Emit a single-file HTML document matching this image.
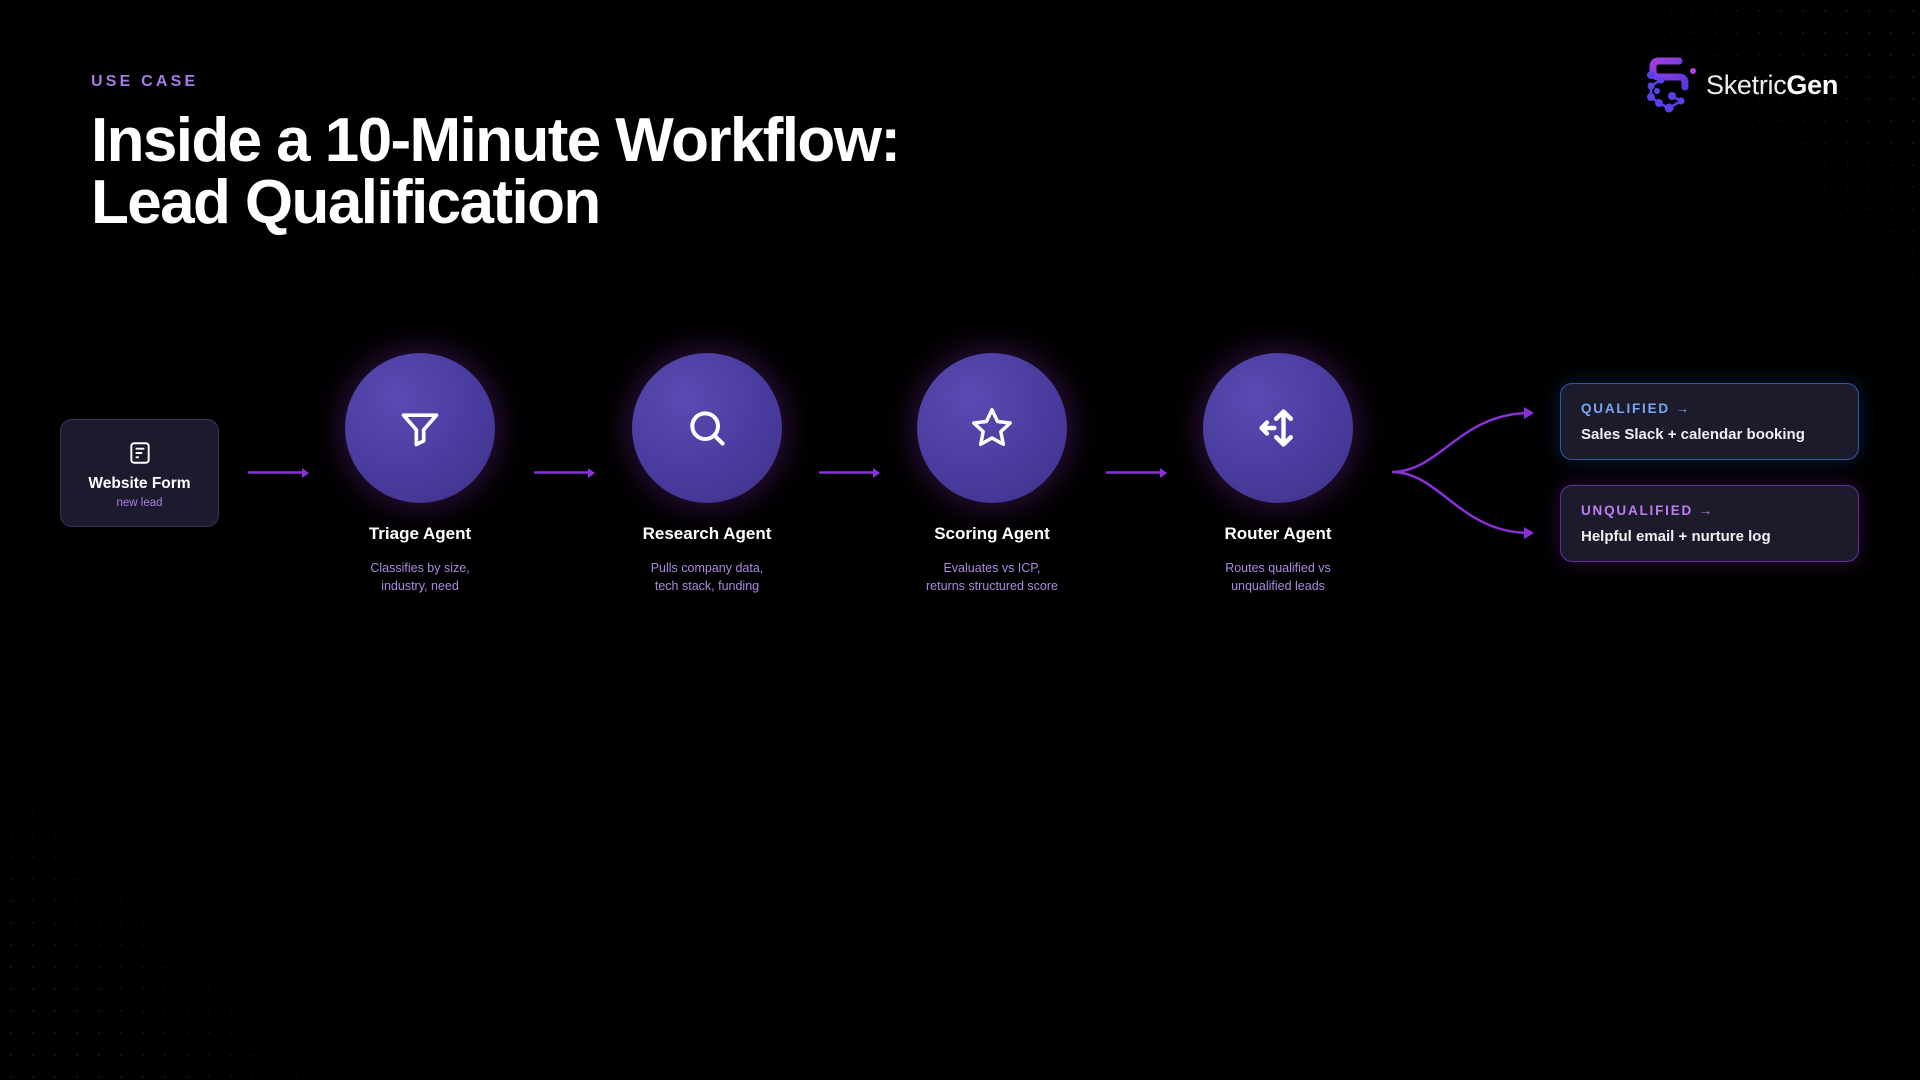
<!DOCTYPE html>
<html><head><meta charset="utf-8"><style>
html,body{margin:0;padding:0;background:#000;}
body{width:1920px;height:1080px;position:relative;overflow:hidden;font-family:"Liberation Sans",sans-serif;color:#fff;}
.dots{position:absolute;background-image:radial-gradient(circle,#1a1a24 1px,transparent 1.5px);background-size:22px 22px;}
.eyebrow{position:absolute;left:91px;top:73px;font-size:16px;letter-spacing:3.2px;color:#a77ae6;font-weight:bold;}
.title{position:absolute;left:91px;top:110px;font-size:62px;line-height:62px;font-weight:bold;letter-spacing:-1.6px;color:#fff;}
.circ{position:absolute;width:150px;height:150px;border-radius:50%;background:radial-gradient(circle at 35% 30%,#5a4ab2 0%,#4a3c9e 55%,#3d3188 100%);box-shadow:0 0 30px 6px rgba(120,40,160,0.35);}
.circ svg{position:absolute;left:50%;top:50%;transform:translate(-50%,-50%);}
.lbl{position:absolute;width:240px;text-align:center;font-weight:bold;font-size:17px;}
.desc{position:absolute;width:240px;text-align:center;font-size:12.5px;line-height:18px;color:#a88ae0;}
.form{position:absolute;left:60px;top:419px;width:157px;height:106px;border-radius:12px;background:#1c1b2e;border:1.5px solid #3a3258;text-align:center;}
.out{position:absolute;left:1560px;width:297px;height:75px;border-radius:12px;background:#1b1b2c;}
.out .h{position:absolute;left:20px;top:17px;font-size:13.5px;font-weight:bold;letter-spacing:1.8px;}
.out .t{position:absolute;left:20px;top:42px;font-size:15px;font-weight:bold;color:#f0f0f0;}
</style></head><body>
<div class="dots" style="right:0;top:0;width:260px;height:300px;opacity:.7;-webkit-mask-image:linear-gradient(225deg,#000 20%,transparent 80%);"></div>
<div class="dots" style="left:0;bottom:0;width:300px;height:300px;opacity:.7;-webkit-mask-image:linear-gradient(45deg,#000 20%,transparent 80%);"></div>

<div class="eyebrow">USE CASE</div>
<div class="title">Inside a 10-Minute Workflow:<br>Lead Qualification</div>

<!-- logo -->
<svg style="position:absolute;left:1645px;top:53px" width="56" height="62" viewBox="0 0 56 62">
<defs><linearGradient id="lg" x1="0" y1="0" x2="1" y2="1"><stop offset="0" stop-color="#a23ee0"/><stop offset="1" stop-color="#5a36e0"/></linearGradient></defs>
<path d="M34 8 L14 8 Q8 8 8 14 L8 18 Q8 24 14 24 L34 24 Q40 24 40 30 L40 34" fill="none" stroke="url(#lg)" stroke-width="7" stroke-linecap="round"/>
<circle cx="48" cy="18" r="3" fill="#b040e0"/>
<g fill="#5a40e8"><circle cx="6" cy="22" r="4"/><circle cx="16" cy="27" r="3.5"/><circle cx="6" cy="33" r="3.5"/><circle cx="12" cy="38" r="3"/><circle cx="6" cy="44" r="4"/><circle cx="14" cy="50" r="4"/><circle cx="24" cy="55" r="4.5"/><circle cx="27" cy="43" r="4"/><circle cx="36" cy="48" r="3.5"/></g>
<path d="M6 22 L16 27 L6 33 L6 44 L14 50 L24 55 L36 48 L27 43" fill="none" stroke="#5a40e8" stroke-width="2.5"/>
</svg>
<div style="position:absolute;left:1706px;top:70px;font-size:27px;color:#eee;letter-spacing:-0.3px;">Sketric<b style="color:#fff">Gen</b></div>

<!-- form -->
<div class="form">
<svg style="position:absolute;left:66px;top:20px" width="26" height="26" viewBox="0 0 24 24" fill="none" stroke="#fff" stroke-width="1.8"><rect x="4" y="3" width="16" height="18" rx="2.5"/><path d="M8 8h8M8 12h6M8 16h3"/></svg>
<div style="position:absolute;left:0;right:0;top:55px;font-size:15.5px;font-weight:bold;">Website Form</div>
<div style="position:absolute;left:0;right:0;top:77px;font-size:11.5px;color:#b27ae8;">new lead</div>
</div>

<!-- circles -->
<div class="circ" style="left:345px;top:353px"><svg width="44" height="44" viewBox="0 0 24 24" fill="none" stroke="#fff" stroke-width="2" stroke-linejoin="round"><path d="M3 5h18l-7 8v6l-4 2v-8z"/></svg></div>
<div class="circ" style="left:632px;top:353px"><svg width="44" height="44" viewBox="0 0 24 24" fill="none" stroke="#fff" stroke-width="2.2" stroke-linecap="round"><circle cx="11" cy="11" r="7"/><path d="M16 16l4.5 4.5"/></svg></div>
<div class="circ" style="left:917px;top:353px"><svg width="46" height="46" viewBox="0 0 24 24" fill="none" stroke="#fff" stroke-width="1.8" stroke-linejoin="round"><path d="M12 2.5l2.9 6.1 6.6.8-4.9 4.5 1.3 6.6L12 17.2l-5.9 3.3 1.3-6.6-4.9-4.5 6.6-.8z"/></svg></div>
<div class="circ" style="left:1203px;top:353px"><svg width="44" height="44" viewBox="0 0 24 24" fill="none" stroke="#fff" stroke-width="2.4" stroke-linecap="round" stroke-linejoin="round"><path d="M15 3v18M11 7l4-4 4 4M11 17l4 4 4-4M10 12H3M6 9l-3 3 3 3"/></svg></div>

<div class="lbl" style="left:300px;top:524px">Triage Agent</div>
<div class="desc" style="left:300px;top:559px">Classifies by size,<br>industry, need</div>
<div class="lbl" style="left:587px;top:524px">Research Agent</div>
<div class="desc" style="left:587px;top:559px">Pulls company data,<br>tech stack, funding</div>
<div class="lbl" style="left:872px;top:524px">Scoring Agent</div>
<div class="desc" style="left:872px;top:559px">Evaluates vs ICP,<br>returns structured score</div>
<div class="lbl" style="left:1158px;top:524px">Router Agent</div>
<div class="desc" style="left:1158px;top:559px">Routes qualified vs<br>unqualified leads</div>

<!-- connectors -->
<svg style="position:absolute;left:0;top:0" width="1920" height="1080">
<g stroke="#8a30d8" stroke-width="2.5" fill="none">
<path d="M248 472.5H306"/><path d="M534 472.5H592"/><path d="M819 472.5H877"/><path d="M1106 472.5H1164"/>
<path d="M1392 472 C1440 472 1460 413 1530 413"/><path d="M1392 472 C1440 472 1460 533 1530 533"/>
</g>
<g fill="#8a30d8">
<path d="M302 468l7 5-7 5z"/><path d="M588 468l7 5-7 5z"/><path d="M873 468l7 5-7 5z"/><path d="M1160 468l7 5-7 5z"/>
<path d="M1524 407l10 6-10 6z"/><path d="M1524 527l10 6-10 6z"/>
</g>
</svg>

<div class="out" style="top:383px;border:1.5px solid #2f57a8;box-shadow:0 0 22px rgba(40,90,200,0.3);"><div class="h" style="color:#7aa6f2">QUALIFIED →</div><div class="t">Sales Slack + calendar booking</div></div>
<div class="out" style="top:485px;border:1.5px solid #6a2c98;box-shadow:0 0 22px rgba(140,40,190,0.3);"><div class="h" style="color:#c07df0">UNQUALIFIED →</div><div class="t">Helpful email + nurture log</div></div>
</body></html>
